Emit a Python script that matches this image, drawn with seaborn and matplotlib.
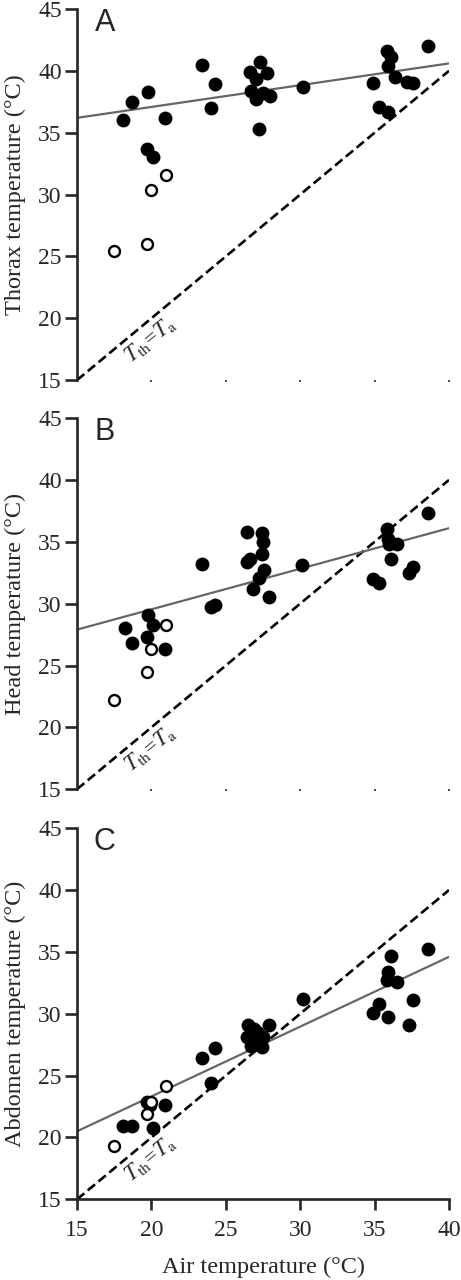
import numpy as np
import pandas as pd
import matplotlib
matplotlib.use('Agg')
import matplotlib.pyplot as plt
import seaborn as sns

# ---- data ----
# panel A: thorax
thorax_air_filled = [18.1, 18.7, 19.8, 19.7, 20.1, 20.9, 23.4, 24.0, 24.3,
                     27.3, 26.6, 27.8, 27.0, 26.7, 27.5, 28.0, 27.0, 27.2,
                     30.2, 34.9, 35.3, 35.9, 35.8, 36.1, 35.9, 36.4, 37.2, 37.6, 38.6]
thorax_filled = [36.0, 37.5, 38.3, 33.7, 33.0, 36.2, 40.5, 37.0, 38.9,
                 40.7, 39.9, 39.8, 39.3, 38.4, 38.2, 38.0, 37.7, 35.3,
                 38.7, 39.0, 37.1, 36.7, 41.6, 41.1, 40.4, 39.5, 39.1, 39.0, 42.0]
thorax_air_open = [17.5, 19.7, 20.0, 21.0]
thorax_open = [25.4, 26.0, 30.4, 31.6]

# panel B: head
head_air_filled = [18.2, 18.7, 19.8, 19.7, 20.1, 20.9, 23.4, 24.0, 24.3,
                   26.4, 27.4, 27.5, 27.4, 26.6, 26.4, 27.6, 27.2, 26.8, 27.9,
                   30.1, 34.9, 35.3, 35.8, 35.9, 36.0, 36.5, 36.1, 37.3, 37.6, 38.6]
head_filled = [28.0, 26.8, 29.1, 27.3, 28.3, 26.3, 33.2, 29.7, 29.9,
               35.8, 35.7, 35.0, 34.0, 33.6, 33.4, 32.7, 32.1, 31.2, 30.5,
               33.1, 32.0, 31.7, 36.0, 35.2, 34.8, 34.8, 33.6, 32.5, 33.0, 37.3]
head_air_open = [17.5, 19.7, 20.0, 21.0]
head_open = [22.2, 24.5, 26.3, 28.3]

# panel C: abdomen
abd_air_filled = [18.1, 18.7, 19.7, 19.9, 20.1, 20.9, 23.4, 24.3, 24.0,
                  26.5, 27.9, 27.1, 26.4, 27.5, 26.7, 27.4, 26.9, 27.2,
                  30.2, 34.9, 35.3, 35.9, 36.1, 35.9, 35.8, 36.5, 37.6, 37.3, 38.6]
abd_filled = [20.9, 20.9, 22.9, 22.6, 20.8, 22.6, 26.4, 27.2, 24.4,
              29.1, 29.1, 28.5, 28.1, 28.1, 27.4, 27.3, 28.8, 27.9,
              31.2, 30.1, 30.8, 29.7, 34.7, 33.4, 32.7, 32.6, 31.1, 29.1, 35.2]
abd_air_open = [17.5, 19.7, 20.0, 21.0]
abd_open = [19.3, 21.9, 22.9, 24.2]

# fitted lines (value at x=15 and x=40) and the 1:1 line
line_x = [15, 40]
fit_thorax = [36.2, 40.6]
fit_head = [27.9, 36.1]
fit_abd = [20.5, 34.6]
iso_line = [15, 40]

panels = [
    ('A', 'Thorax temperature (°C)', thorax_air_filled, thorax_filled,
     thorax_air_open, thorax_open, fit_thorax),
    ('B', 'Head temperature (°C)', head_air_filled, head_filled,
     head_air_open, head_open, fit_head),
    ('C', 'Abdomen temperature (°C)', abd_air_filled, abd_filled,
     abd_air_open, abd_open, fit_abd),
]

sns.set_style('ticks')
plt.rcParams['font.family'] = ['Liberation Serif', 'DejaVu Serif']
plt.rcParams['mathtext.fontset'] = 'stix'

fig = plt.figure(figsize=(4.61, 12.8), dpi=100)
bottoms = [0.703, 0.3834, 0.063]

for i, (letter, ylab, xf, yf, xo, yo, fit) in enumerate(panels):
    ax = fig.add_axes([0.167, bottoms[i], 0.807, 0.29])
    sns.lineplot(x=line_x, y=iso_line, ax=ax, color='black', lw=1.9,
                 linestyle=(0, (3.6, 1.7)))
    sns.lineplot(x=line_x, y=fit, ax=ax, color='#666666', lw=1.6)
    sns.scatterplot(x=xf, y=yf, ax=ax, color='black', s=100, edgecolor='black',
                    linewidth=0, zorder=3)
    sns.scatterplot(x=xo, y=yo, ax=ax, facecolor='white', edgecolor='black',
                    s=62, linewidth=1.7, zorder=4)
    ax.set_xlim(15, 40)
    ax.set_ylim(15, 45)
    ax.set_yticks([15, 20, 25, 30, 35, 40, 45])
    ax.set_xticks([15, 20, 25, 30, 35, 40])
    ax.set_ylabel(ylab, fontsize=17.5, labelpad=9)
    ax.tick_params(axis='y', length=8.5, width=1.9, labelsize=17, pad=2.5)
    for s in ['top', 'right']:
        ax.spines[s].set_visible(False)
    ax.spines['left'].set_linewidth(1.9)
    if letter != 'C':
        ax.spines['bottom'].set_visible(False)
        ax.tick_params(axis='x', length=1.2, width=1.2, labelbottom=False)
        ax.set_xlabel('')
    else:
        ax.spines['bottom'].set_linewidth(1.9)
        ax.tick_params(axis='x', length=8, width=1.9, labelsize=17, pad=7)
        ax.set_xlabel('Air temperature (°C)', fontsize=17.5, labelpad=11)
    ax.text(0.075, 0.963, letter, transform=ax.transAxes, fontsize=22,
            family=['Liberation Sans', 'DejaVu Sans'], ha='center', va='center')
    ax.text(19.9, 18.3, r'$T_{\rm th}$=$T_{\rm a}$', fontsize=16,
            rotation=39.5, ha='center', va='center')

fig.savefig('out.png', dpi=100)
